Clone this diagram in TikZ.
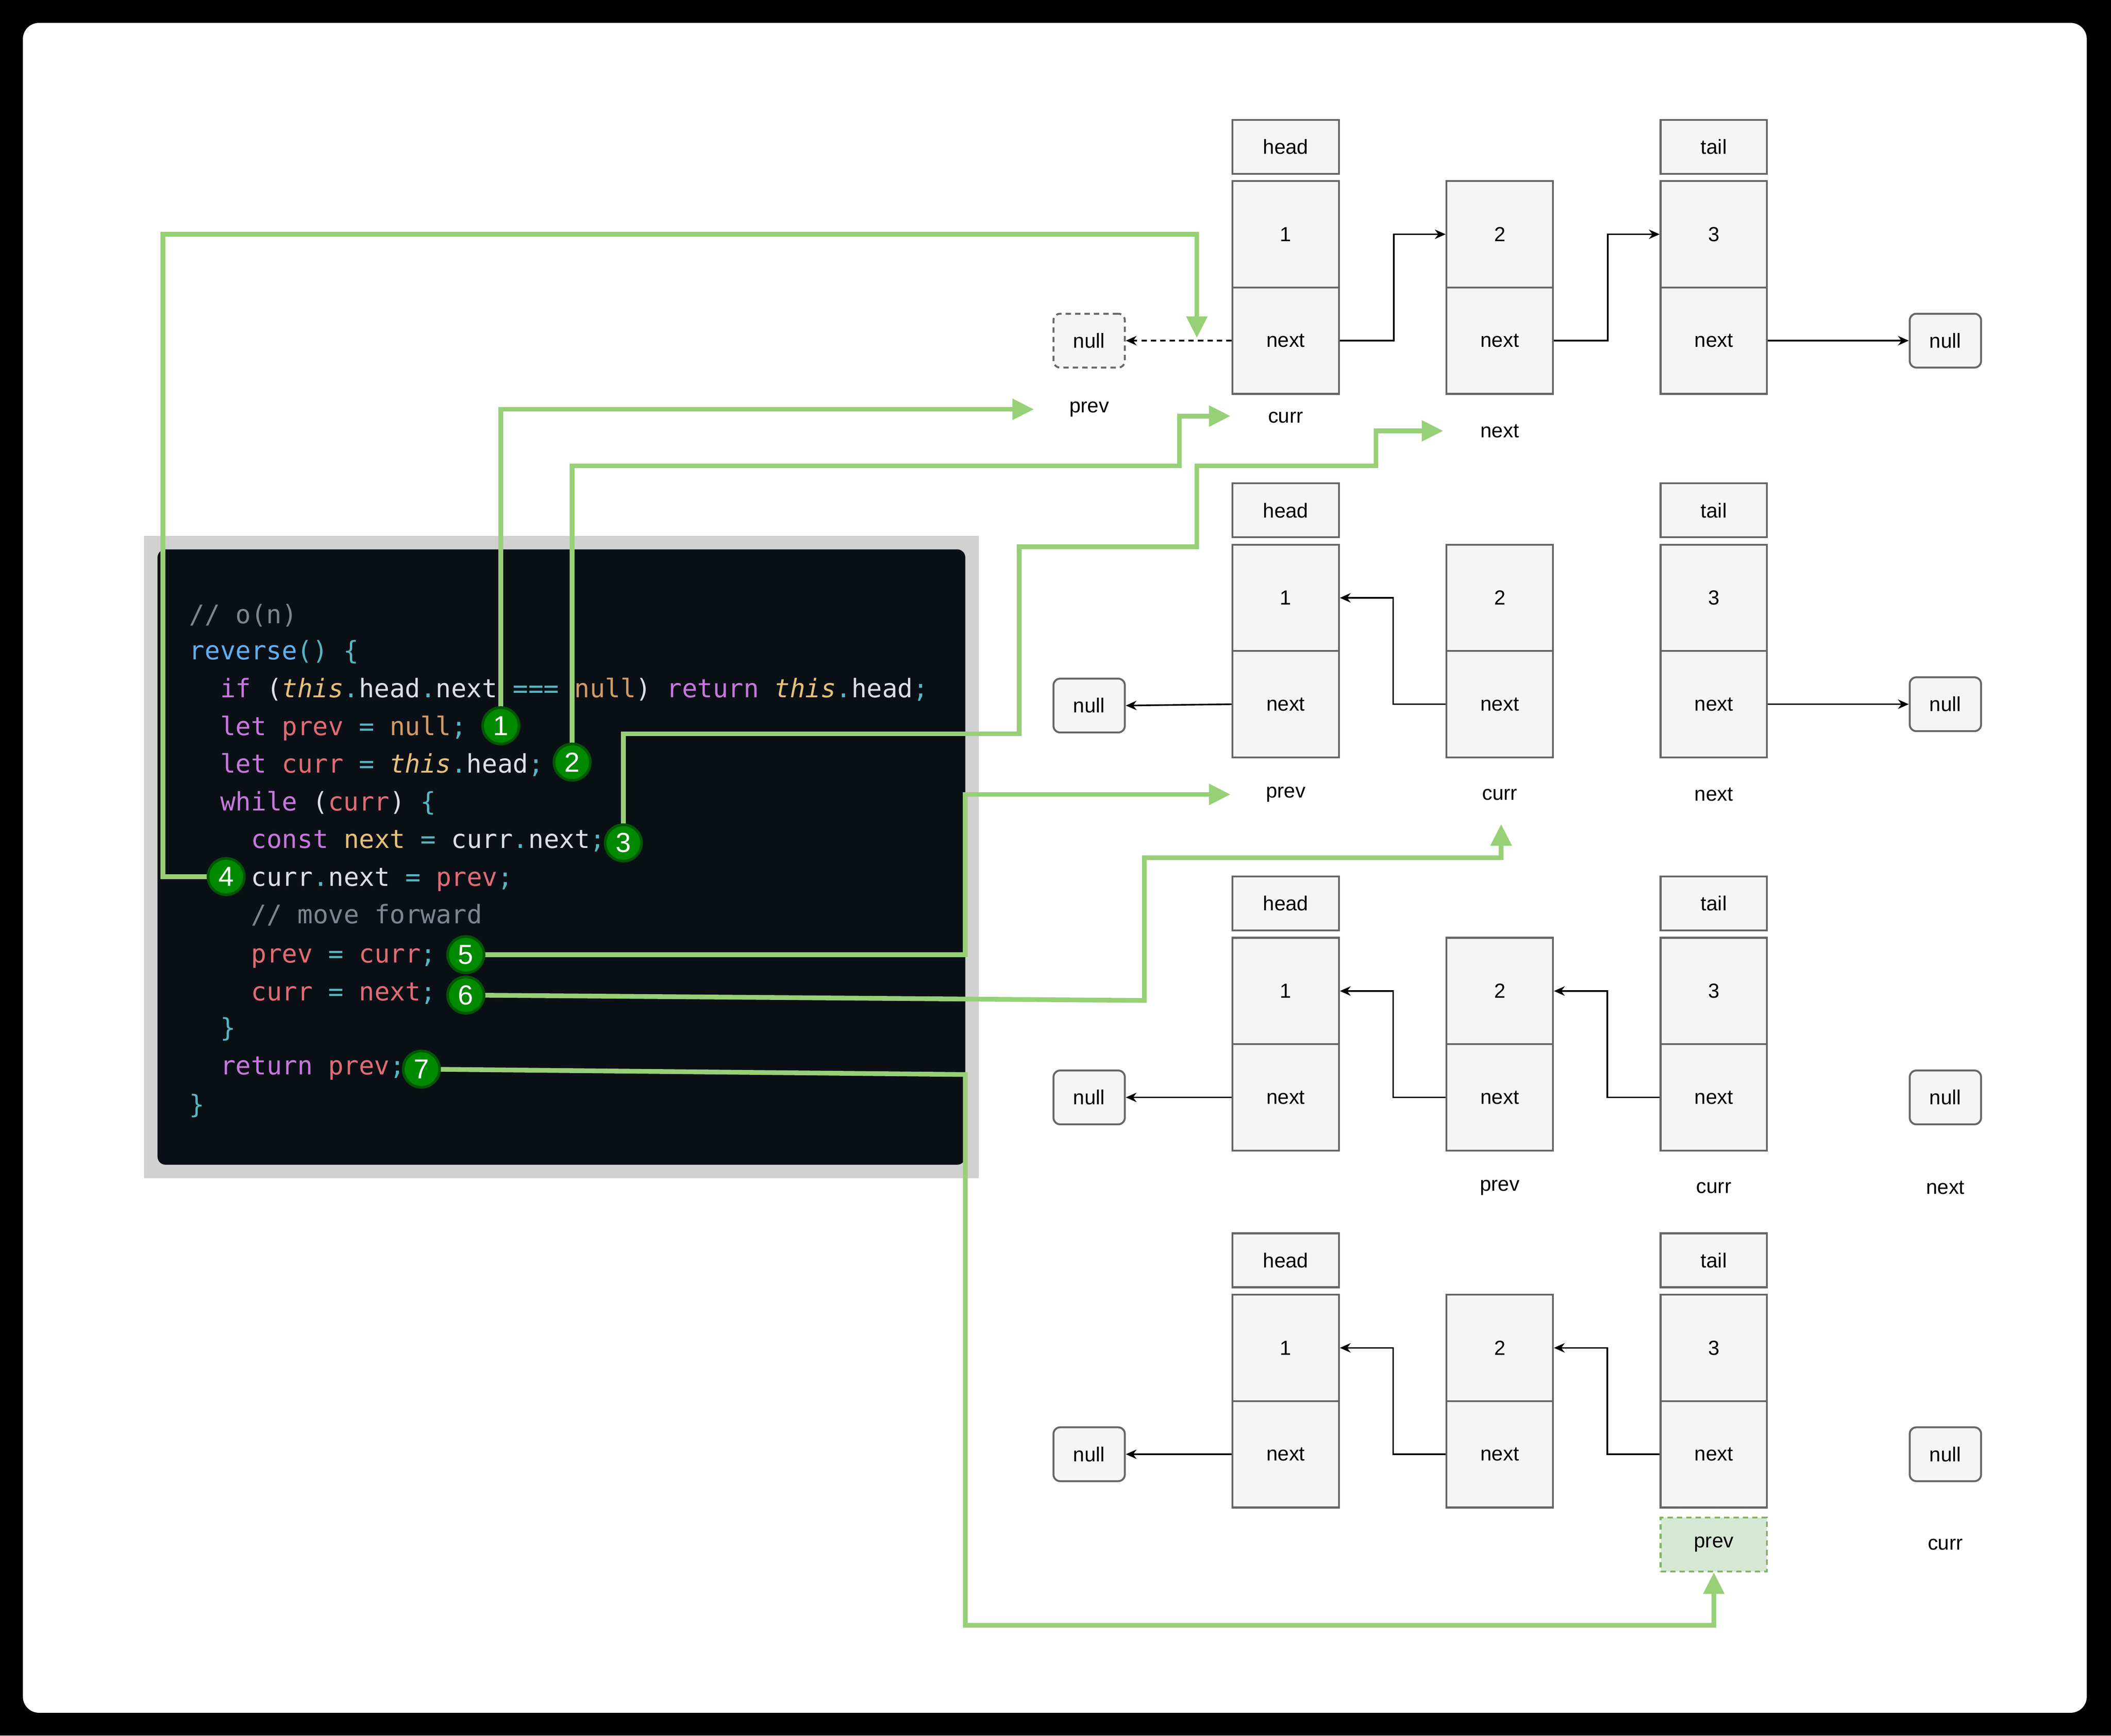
\documentclass[tikz,border=0pt]{standalone}
\usepackage{fontspec}
\setmainfont{Liberation Sans}
\newfontfamily\codefont{DejaVu Sans Mono}
\usetikzlibrary{positioning, arrows.meta}

\definecolor{cellfill}{HTML}{F5F5F5}
\definecolor{celldraw}{HTML}{666666}
\definecolor{linkgreen}{HTML}{97D077}
\definecolor{stepfill}{HTML}{008A00}
\definecolor{stepdraw}{HTML}{005700}
\definecolor{prevfill}{HTML}{D5E8D4}
\definecolor{prevdraw}{HTML}{82B366}
\definecolor{codebg}{HTML}{0B1016}
\definecolor{kwcol}{HTML}{C678DD}
\definecolor{varcol}{HTML}{E06C75}
\definecolor{nullcol}{HTML}{D19A66}
\definecolor{thiscol}{HTML}{E5C07B}
\definecolor{fncol}{HTML}{61AFEF}
\definecolor{pucol}{HTML}{56B6C2}
\definecolor{plcol}{HTML}{DCDFE4}
\definecolor{cmcol}{HTML}{7F848E}

\newcommand\ckw[1]{\textcolor{kwcol}{#1}}
\newcommand\cvar[1]{\textcolor{varcol}{#1}}
\newcommand\cnull[1]{\textcolor{nullcol}{#1}}
\newcommand\cthis{\textcolor{thiscol}{\itshape this}}
\newcommand\cfn[1]{\textcolor{fncol}{#1}}
\newcommand\cpu[1]{\textcolor{pucol}{#1}}
\newcommand\cpl[1]{\textcolor{plcol}{#1}}
\newcommand\ccm[1]{\textcolor{cmcol}{#1}}

\begin{document}
\begin{tikzpicture}
    [
        x=0.01cm, y=-0.01cm,
        cell/.style={draw=celldraw, fill=cellfill, minimum width=0.79cm, minimum height=0.79cm, inner sep=0pt, font=\fontsize{4.3}{5}\selectfont},
        tag/.style={draw=celldraw, fill=cellfill, minimum width=0.79cm, minimum height=0.4cm, inner sep=0pt, font=\fontsize{4.3}{5}\selectfont},
        nullbox/.style={draw=celldraw, fill=cellfill, rounded corners=0.05cm, minimum width=0.53cm, minimum height=0.4cm, inner sep=0pt, font=\fontsize{4.3}{5}\selectfont},
        txt/.style={inner sep=0pt, font=\fontsize{4.3}{5}\selectfont},
        code/.style={anchor=base west, inner sep=0pt, font=\codefont\fontsize{5.4}{6}\selectfont},
        badge/.style={circle, fill=stepfill, draw=stepdraw, line width=0.02cm, minimum size=0.27cm, inner sep=0pt, text=white, font=\fontsize{5.8}{6}\selectfont},
        link/.style={-{Stealth[length=0.08cm, width=0.07cm]}, line width=0.012cm, black},
        flow/.style={-{Triangle[length=0.16cm, width=0.15cm]}, line width=0.035cm, linkgreen},
        fine dash/.style={dash pattern=on 0.04cm off 0.03cm},
    ]
    % frame
    \fill[black] (0,0) rectangle (1568,1289);
    \fill[white, rounded corners=0.12cm] (17,17) rectangle (1550,1272);
    \useasboundingbox (0,0) rectangle (1568,1289);

    % code panel
    \fill[black!18] (107,398) rectangle (727,875);
    \fill[codebg, rounded corners=0.06cm] (117,408) rectangle (717,865);
    \node[code] (l1) at (140,463) {\ccm{// o(n)}};
    \node[code] (l2) at (140,490) {\cfn{reverse}\cpu{() \{}};
    \node[code] (l3) at (163,518) {\ckw{if} \cpl{(}\cthis\cpu{.}\cpl{head}\cpu{.}\cpl{next} \cpu{===} \cnull{null}\cpl{)} \ckw{return} \cthis\cpu{.}\cpl{head}\cpu{;}};
    \node[code] (l4) at (163,546) {\ckw{let} \cvar{prev} \cpu{=} \cnull{null}\cpu{;}};
    \node[code] (l5) at (163,574) {\ckw{let} \cvar{curr} \cpu{=} \cthis\cpu{.}\cpl{head}\cpu{;}};
    \node[code] (l6) at (163,602) {\ckw{while} \cpl{(}\cvar{curr}\cpl{)} \cpu{\{}};
    \node[code] (l7) at (186,630) {\ckw{const} \textcolor{thiscol}{next} \cpu{=} \cpl{curr}\cpu{.}\cpl{next}\cpu{;}};
    \node[code] (l8) at (186,658) {\cpl{curr}\cpu{.}\cpl{next} \cpu{=} \cvar{prev}\cpu{;}};
    \node[code] (l9) at (186,686) {\ccm{// move forward}};
    \node[code] (l10) at (186,715) {\cvar{prev} \cpu{=} \cvar{curr}\cpu{;}};
    \node[code] (l11) at (186,743) {\cvar{curr} \cpu{=} \cvar{next}\cpu{;}};
    \node[code] (l12) at (163,770) {\cpu{\}}};
    \node[code] (l13) at (163,798) {\ckw{return} \cvar{prev}\cpu{;}};
    \node[code] (l14) at (140,827) {\cpu{\}}};

    % lists
    \foreach \r/\t in {a/134, b/404, c/696, d/961} {
        \foreach \i/\x in {1/955, 2/1114, 3/1273} {
            \node[cell] (v\r\i) at (\x,{\t+40}) {\i};
            \node[cell] (n\r\i) at (\x,{\t+119}) {next};
        }
        \node[tag] (h\r) at (955,{\t-25}) {head};
        \node[tag] (t\r) at (1273,{\t-25}) {tail};
        \node[nullbox] (r\r) at (1445,{\t+119}) {null};
    }
    \node[nullbox, fine dash] (la) at (809,253) {null};
    \node[nullbox] (lb) at (809,524) {null};
    \node[nullbox] (lc) at (809,815) {null};
    \node[nullbox] (ld) at (809,1080) {null};

    \node[txt] (pa) at (809,304) {prev};
    \node[txt] (ca) at (955,310) {curr};
    \node[txt] (xa) at (1114,320) {next};
    \node[txt] (pb) at (955,590) {prev};
    \node[txt] (cb) at (1114,590) {curr};
    \node[txt] (xb) at (1273,590) {next};
    \node[txt] (pc) at (1114,882) {prev};
    \node[txt] (cc) at (1273,882) {curr};
    \node[txt] (xc) at (1445,882) {next};
    \node[tag, fill=prevfill, draw=prevdraw, fine dash] (pd) at (1273,1147) {prev};
    \node[txt] (cd) at (1445,1147) {curr};

    % links
    \draw[link] (na1.east) -- ++(40,0) |- (va2.west);
    \draw[link] (na2.east) -- ++(40,0) |- (va3.west);
    \draw[link] (na3.east) -- (ra.west);
    \draw[link, fine dash] (na1.west) -- (la.east);
    \draw[link] (nb1.west) -- (lb.east);
    \draw[link] (nb2.west) -- ++(-39,0) |- (vb1.east);
    \draw[link] (nb3.east) -- (rb.west);
    \foreach \r in {c, d} {
        \draw[link] (n\r1.west) -- (l\r.east);
        \draw[link] (n\r2.west) -- ++(-39,0) |- (v\r1.east);
        \draw[link] (n\r3.west) -- ++(-39,0) |- (v\r2.east);
    }

    % steps
    \coordinate (e1) at (768,304);
    \coordinate (e2) at (914,309);
    \coordinate (e3) at (1072,320);
    \coordinate (e4) at (889,251);
    \coordinate (e5) at (914,590);
    \coordinate (e6) at (1115,612);
    \draw[flow] (372,539) -- (372,304) -- (e1);
    \draw[flow] (425,566) -- (425,346) -- (876,346) -- (876,309) -- (e2);
    \draw[flow] (463,626) -- (463,545) -- (757,545) -- (757,406) -- (889,406) -- (889,346) -- (1022,346) -- (1022,320) -- (e3);
    \draw[flow] (168,651) -- (121,651) -- (121,174) -- (889,174) -- (e4);
    \draw[flow] (346,709) -- (717,709) -- (717,590) -- (e5);
    \draw[flow] (346,739) -- (850,743) -- (850,637) -- (1115,637) -- (e6);
    \draw[flow] (313,794) -- (717,798) -- (717,1207) -- (1273,1207) -- (pd.south);
    \node[badge] (s1) at (372,539) {1};
    \node[badge] (s2) at (425,566) {2};
    \node[badge] (s3) at (463,626) {3};
    \node[badge] (s4) at (168,651) {4};
    \node[badge] (s5) at (346,709) {5};
    \node[badge] (s6) at (346,739) {6};
    \node[badge] (s7) at (313,794) {7};
\end{tikzpicture}
\end{document}
